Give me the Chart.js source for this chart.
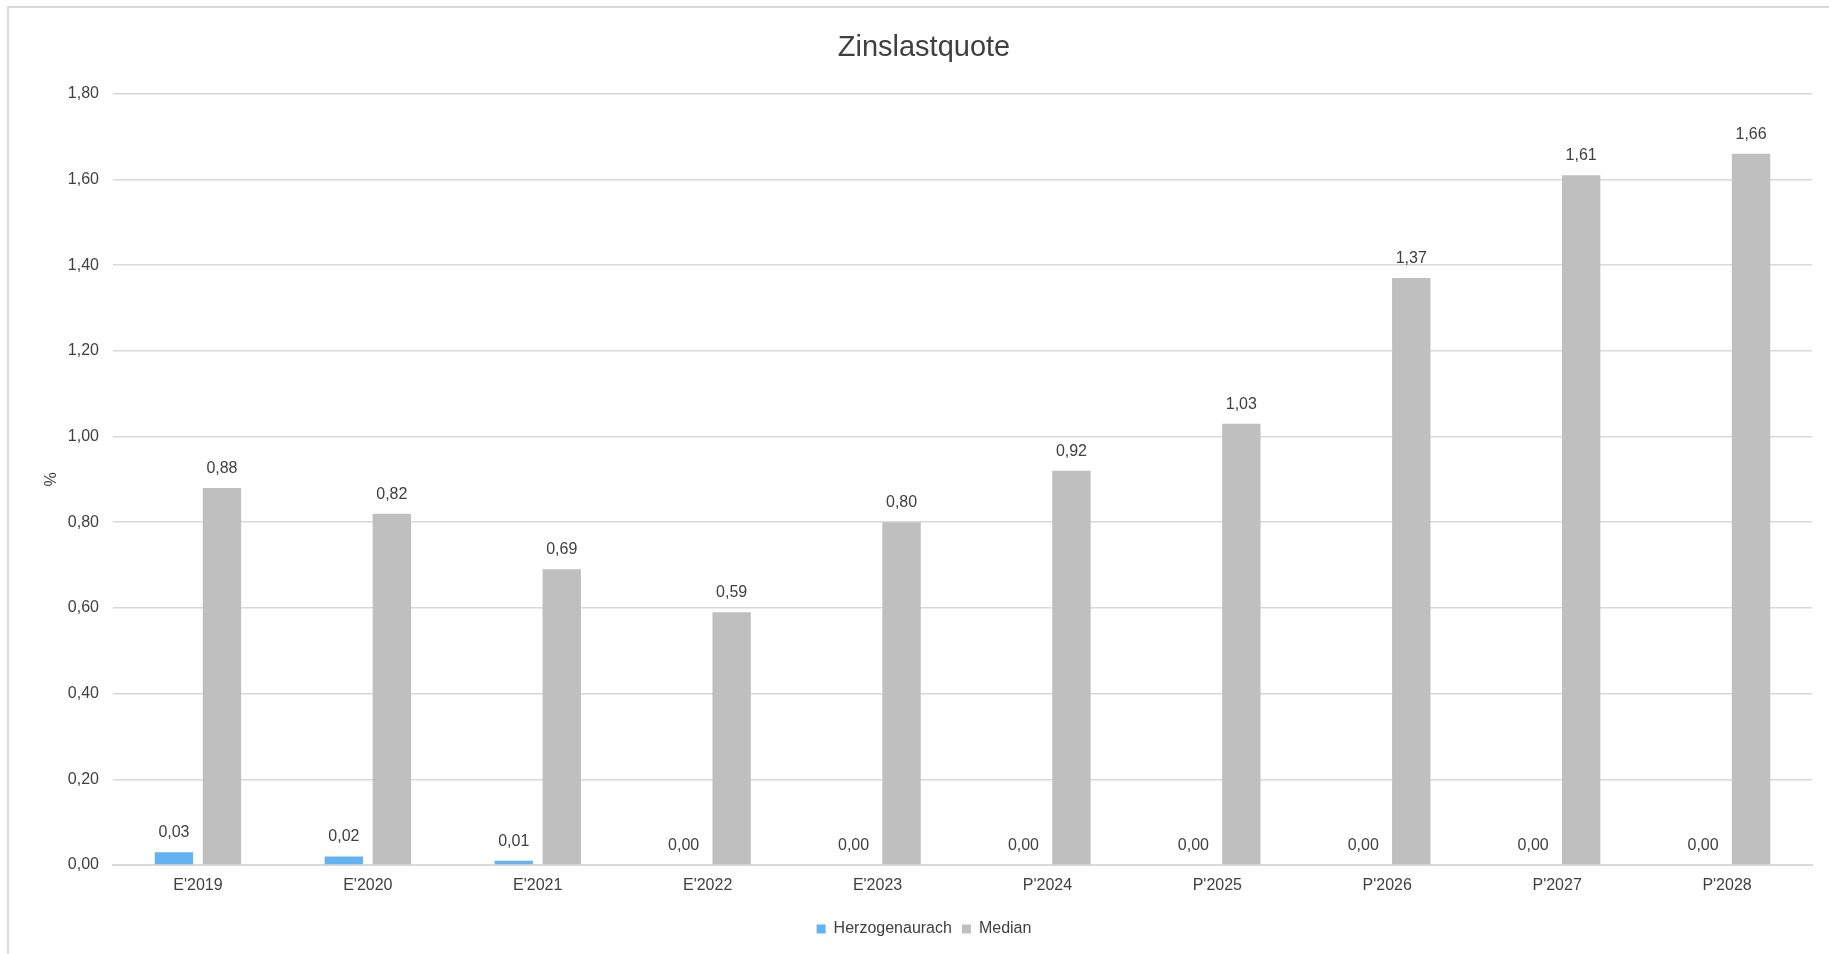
<!DOCTYPE html>
<html>
<head>
<meta charset="utf-8">
<script src="https://cdn.jsdelivr.net/npm/chart.js@4.4.1/dist/chart.umd.min.js"></script>
<style>
  html, body { margin: 0; padding: 0; width: 1829px; height: 954px; overflow: hidden; background: #ffffff; }
  #frame { position: absolute; left: 7px; top: 6px; width: 1840px; height: 960px; border: 2px solid #d9d9d9; box-sizing: border-box; }
  #wrap { position: absolute; left: 8px; top: 7px; width: 1832px; height: 947px; }
</style>
</head>
<body>
<div id="frame"></div>
<div id="wrap"><canvas id="c"></canvas></div>
<script>
const categories = ["E'2019", "E'2020", "E'2021", "E'2022", "E'2023", "P'2024", "P'2025", "P'2026", "P'2027", "P'2028"];
const herzogenaurach = [0.03, 0.02, 0.01, 0.00, 0.00, 0.00, 0.00, 0.00, 0.00, 0.00];
const median = [0.88, 0.82, 0.69, 0.59, 0.80, 0.92, 1.03, 1.37, 1.61, 1.66];
const seriesNames = ["Herzogenaurach", "Median"];
const yMin = 0, yMax = 1.8, yStep = 0.2;

const FONT = "'Liberation Sans', Arial, Helvetica, sans-serif";
const TXT = '#404040';
const fmt = v => v.toFixed(2).replace('.', ',');

const valueLabels = {
  id: 'valueLabels',
  afterDatasetsDraw(chart) {
    const ctx = chart.ctx;
    ctx.save();
    ctx.font = '16px ' + FONT;
    ctx.fillStyle = TXT;
    ctx.textAlign = 'center';
    ctx.textBaseline = 'alphabetic';
    chart.data.datasets.forEach((ds, i) => {
      const meta = chart.getDatasetMeta(i);
      meta.data.forEach((el, j) => {
        ctx.fillText(fmt(ds.data[j]), el.x, el.y - 15);
      });
    });
    ctx.restore();
  }
};

new Chart(document.getElementById('c'), {
  type: 'bar',
  data: {
    labels: categories,
    datasets: [
      { label: seriesNames[0], data: herzogenaurach, backgroundColor: '#63B3F2', categoryPercentage: 0.565, barPercentage: 0.8 },
      { label: seriesNames[1], data: median, backgroundColor: '#BFBFBF', categoryPercentage: 0.565, barPercentage: 0.8 }
    ]
  },
  options: {
    responsive: true,
    maintainAspectRatio: false,
    animation: false,
    devicePixelRatio: 1,
    layout: { padding: { top: 0, left: 28, right: 28, bottom: 7 } },
    plugins: {
      title: {
        display: true,
        text: 'Zinslastquote',
        color: TXT,
        font: { family: FONT, size: 29, weight: 'normal' },
        padding: { top: 23.5, bottom: 28.5 }
      },
      legend: {
        display: true,
        position: 'bottom',
        labels: {
          color: TXT,
          font: { family: FONT, size: 16 },
          boxWidth: 9,
          boxHeight: 9,
          padding: 10
        }
      },
      tooltip: { enabled: false }
    },
    scales: {
      x: {
        grid: { display: false, drawTicks: false },
        border: { display: true, color: '#d9d9d9', width: 2 },
        ticks: { color: TXT, font: { family: FONT, size: 16 }, padding: 11, maxRotation: 0 },
        afterFit(scale) { scale.height = 46; }
      },
      y: {
        min: yMin,
        max: yMax,
        border: { display: false },
        grid: { color: '#d9d9d9', lineWidth: 1.5, drawTicks: false },
        ticks: { stepSize: yStep, color: TXT, font: { family: FONT, size: 16 }, padding: 14, callback: v => fmt(v) },
        title: { display: true, text: '%', color: TXT, font: { family: FONT, size: 16 }, padding: { top: 6, bottom: 0 } },
        afterFit(scale) { scale.width = 77; }
      }
    }
  },
  plugins: [valueLabels]
});
</script>
</body>
</html>
